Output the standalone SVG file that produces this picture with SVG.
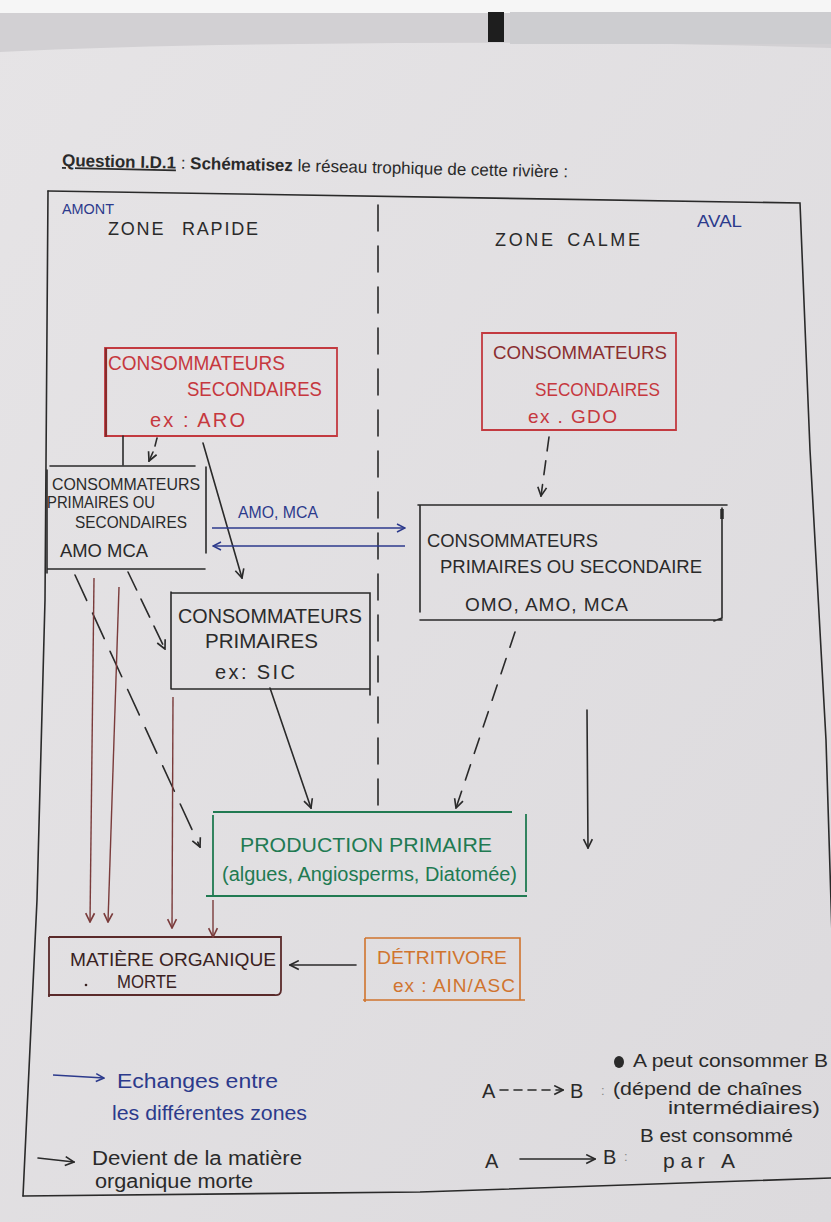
<svg xmlns="http://www.w3.org/2000/svg" width="831" height="1222" viewBox="0 0 831 1222">
<style>
text{font-family:"Liberation Sans",Arial,sans-serif;}
.ink{fill:#2a2a2a;}
.red{fill:#c6383e;}
.dred{fill:#8a2e30;}
.blue{fill:#2c3a8c;}
.green{fill:#217a52;}
.brown{fill:#3a2222;}
.orange{fill:#d0742e;}
.ln{fill:none;stroke:#2a2a2a;stroke-width:1.6;stroke-linecap:round;}
.lnr{fill:none;stroke:#c33a40;stroke-width:1.8;}
.lng{fill:none;stroke:#217a52;stroke-width:1.8;}
.lnb{fill:none;stroke:#5a2a2a;stroke-width:1.8;}
.lno{fill:none;stroke:#d0742e;stroke-width:1.6;}
.br{fill:none;stroke:#7a3b3b;stroke-width:1.4;}
.bl{fill:none;stroke:#2c3a8c;stroke-width:1.6;}
.dash{stroke-dasharray:26 15;}
</style>
<defs>
<linearGradient id="pg" x1="0" y1="0" x2="1" y2="1">
<stop offset="0" stop-color="#e6e4e6"/>
<stop offset="1" stop-color="#dcdadd"/>
</linearGradient>
<marker id="ak" viewBox="0 0 10 10" refX="9" refY="5" markerWidth="11" markerHeight="11" markerUnits="userSpaceOnUse" orient="auto"><path d="M1,1 L9,5 L1,9" fill="none" stroke="#2a2a2a" stroke-width="1.5"/></marker>
<marker id="ab" viewBox="0 0 10 10" refX="9" refY="5" markerWidth="11" markerHeight="11" markerUnits="userSpaceOnUse" orient="auto"><path d="M1,1 L9,5 L1,9" fill="none" stroke="#7a3b3b" stroke-width="1.5"/></marker>
<marker id="abl" viewBox="0 0 10 10" refX="9" refY="5" markerWidth="10" markerHeight="10" markerUnits="userSpaceOnUse" orient="auto"><path d="M1,1 L9,5 L1,9" fill="none" stroke="#2c3a8c" stroke-width="1.5"/></marker>
</defs>

<g id="background">
<rect x="0" y="0" width="831" height="1222" fill="url(#pg)"/>
<rect x="0" y="0" width="831" height="13" fill="#f6f6f6"/>
<path d="M0,13 H831 V48 Q600,40 300,44 Q120,46 0,52 Z" fill="#d2d0d3"/>
<rect x="488" y="12" width="16" height="30" fill="#1e1e1e"/>
<rect x="510" y="12" width="321" height="32" fill="#cdcdd0"/>
</g>

<g id="title">
<text x="62" y="166" font-size="17" textLength="506" lengthAdjust="spacingAndGlyphs" transform="rotate(1.3 62 166)" class="ink"><tspan font-weight="bold" text-decoration="underline">Question I.D.1</tspan> : <tspan font-weight="bold">Schématisez</tspan> le réseau trophique de cette rivière :</text>
</g>

<g id="frame">
<path class="ln" d="M48,191 L800,203 L810,450 L826,740 L834,1000"/>
<path class="ln" d="M48,191 L45,600 L37,900 L23,1196"/>
<path class="ln" d="M23,1196 L420,1192 L831,1178"/>
<path class="ln dash" d="M378,205 L378,812" stroke-width="1.8"/>
</g>

<g id="zone-labels">
<text x="62" y="214" font-size="14" textLength="52" lengthAdjust="spacingAndGlyphs" class="blue">AMONT</text>
<text x="108" y="235" font-size="18" textLength="150" lengthAdjust="spacing" style="word-spacing:10px" class="ink">ZONE RAPIDE</text>
<text x="495" y="246" font-size="18" textLength="145" lengthAdjust="spacing" style="word-spacing:4px" class="ink">ZONE CALME</text>
<text x="697" y="227" font-size="16" textLength="45" lengthAdjust="spacingAndGlyphs" class="blue">AVAL</text>
</g>

<g id="node-cs-amont">
<path class="lnr" d="M105,348 H337 V436 H105 Z"/>
<path d="M106,348 V437" stroke="#8a2a2a" stroke-width="2.2" fill="none"/>
<text x="108" y="370" font-size="20" textLength="177" lengthAdjust="spacingAndGlyphs" class="red">CONSOMMATEURS</text>
<text x="187" y="396" font-size="20" textLength="135" lengthAdjust="spacingAndGlyphs" class="red">SECONDAIRES</text>
<text x="150" y="427" font-size="20" textLength="95" lengthAdjust="spacing" class="red">ex : ARO</text>
</g>

<g id="node-cs-aval">
<path class="lnr" d="M482,333 H676 V430 H482 Z"/>
<text x="493" y="359" font-size="19" textLength="174" lengthAdjust="spacingAndGlyphs" class="dred">CONSOMMATEURS</text>
<text x="535" y="396" font-size="19" textLength="125" lengthAdjust="spacingAndGlyphs" class="red">SECONDAIRES</text>
<text x="528" y="423" font-size="19" textLength="89" lengthAdjust="spacing" class="red">ex . GDO</text>
</g>

<g id="node-cps-amont">
<path class="ln" d="M50,466 H195 M206,467 V553 M47,569 H205 M47,470 V573"/>
<text x="52" y="490" font-size="17" textLength="148" lengthAdjust="spacingAndGlyphs" class="ink">CONSOMMATEURS</text>
<text x="47" y="508" font-size="17" textLength="108" lengthAdjust="spacingAndGlyphs" class="ink">PRIMAIRES OU</text>
<text x="75" y="528" font-size="17" textLength="112" lengthAdjust="spacingAndGlyphs" class="ink">SECONDAIRES</text>
<text x="60" y="557" font-size="18" textLength="88" lengthAdjust="spacingAndGlyphs" class="ink">AMO MCA</text>
</g>

<g id="node-cp-amont">
<path class="ln" d="M172,593 H370 V695 M172,689 H370 M171,592 V689"/>
<text x="178" y="623" font-size="20" textLength="184" lengthAdjust="spacingAndGlyphs" class="ink">CONSOMMATEURS</text>
<text x="205" y="648" font-size="20" textLength="113" lengthAdjust="spacingAndGlyphs" class="ink">PRIMAIRES</text>
<text x="215" y="679" font-size="20" textLength="80" lengthAdjust="spacing" class="ink">ex: SIC</text>
</g>

<g id="node-cps-aval">
<path class="ln" d="M418,505 H727 M722,508 V618 L714,621 M420,620 H722 M420,505 V612"/>
<path d="M722,509 V519" stroke="#2a2a2a" stroke-width="3.5"/>
<text x="427" y="547" font-size="19" textLength="171" lengthAdjust="spacingAndGlyphs" class="ink">CONSOMMATEURS</text>
<text x="440" y="573" font-size="18" textLength="262" lengthAdjust="spacingAndGlyphs" class="ink">PRIMAIRES OU SECONDAIRE</text>
<text x="465" y="611" font-size="19" textLength="163" lengthAdjust="spacing" class="ink">OMO, AMO, MCA</text>
</g>

<g id="node-production">
<path class="lng" d="M213,812 H512 M526,814 V892 M206,896 H527 M213,815 V897"/>
<text x="240" y="852" font-size="20" textLength="252" lengthAdjust="spacingAndGlyphs" class="green">PRODUCTION PRIMAIRE</text>
<text x="222" y="881" font-size="20" textLength="295" lengthAdjust="spacingAndGlyphs" class="green">(algues, Angiosperms, Diatomée)</text>
</g>

<g id="node-mom">
<path class="lnb" d="M49,937 H281 V990 Q281,996 274,995 H48 M49,937 V997"/>
<circle cx="86" cy="985" r="1.3" fill="#3a2222"/>
<text x="70" y="966" font-size="19" textLength="206" lengthAdjust="spacingAndGlyphs" class="brown">MATIÈRE ORGANIQUE</text>
<text x="117" y="988" font-size="19" textLength="60" lengthAdjust="spacingAndGlyphs" class="brown">MORTE</text>
</g>

<g id="node-detritivore">
<path class="lno" d="M365,938 H520 V1000 M363,1000 H525 M365,938 V1002"/>
<text x="377" y="964" font-size="19" textLength="130" lengthAdjust="spacingAndGlyphs" class="orange">DÉTRITIVORE</text>
<text x="393" y="992" font-size="19" textLength="122" lengthAdjust="spacing" class="orange">ex : AIN/ASC</text>
</g>

<g id="connectors">
<path class="ln" d="M123,436 V465"/>
<path class="ln" d="M157,438 L155,446" />
<path class="ln" d="M153,452 L149,461" marker-end="url(#ak)"/>
<path class="ln" d="M203,443 L242,578" marker-end="url(#ak)"/>
<path class="ln" d="M549,437 L541,496" style="stroke-dasharray:14 10" marker-end="url(#ak)"/>
<path class="bl" d="M212,528 H405" marker-end="url(#abl)"/>
<path class="bl" d="M405,546 H213" marker-end="url(#abl)"/>
<path class="ln" d="M128,572 L165,649" style="stroke-dasharray:20 10" marker-end="url(#ak)"/>
<path class="ln" d="M75,575 L200,847" style="stroke-dasharray:28 14" marker-end="url(#ak)"/>
<path class="br" d="M94,578 L90,922" marker-end="url(#ab)"/>
<path class="br" d="M119,587 L108,922" marker-end="url(#ab)"/>
<path class="br" d="M173,697 L172,928" marker-end="url(#ab)"/>
<path class="br" d="M213,900 V937" marker-end="url(#ab)"/>
<path class="ln" d="M270,688 L311,808" marker-end="url(#ak)"/>
<path class="ln" d="M515,632 L456,808" style="stroke-dasharray:16 12" marker-end="url(#ak)"/>
<path class="ln" d="M587,710 L588,848" marker-end="url(#ak)"/>
<path class="ln" d="M356,965 H290" marker-end="url(#ak)"/>
<text x="238" y="518" font-size="16" textLength="80" lengthAdjust="spacingAndGlyphs" class="blue">AMO, MCA</text>
</g>

<g id="legend">
<path class="bl" d="M53,1075 L104,1078" marker-end="url(#abl)"/>
<text x="117" y="1088" font-size="21" textLength="161" lengthAdjust="spacingAndGlyphs" class="blue">Echanges entre</text>
<text x="112" y="1120" font-size="21" textLength="195" lengthAdjust="spacingAndGlyphs" class="blue">les différentes zones</text>
<path class="ln" d="M38,1158 L74,1162" marker-end="url(#ak)"/>
<text x="92" y="1165" font-size="20" textLength="210" lengthAdjust="spacingAndGlyphs" class="ink">Devient de la matière</text>
<text x="95" y="1188" font-size="20" textLength="158" lengthAdjust="spacingAndGlyphs" class="ink">organique morte</text>

<ellipse cx="619" cy="1062" rx="5" ry="6" fill="#2a2a2a"/>
<text x="633" y="1067" font-size="19" textLength="195" lengthAdjust="spacingAndGlyphs" class="ink">A peut consommer B</text>
<text x="482" y="1098" font-size="20" class="ink">A</text>
<path class="ln" d="M500,1090 H563" style="stroke-dasharray:8 6" marker-end="url(#ak)"/>
<text x="570" y="1098" font-size="20" class="ink">B</text>
<text x="601" y="1095" font-size="13" fill="#888">:</text>
<text x="613" y="1095" font-size="18" textLength="189" lengthAdjust="spacingAndGlyphs" class="ink">(dépend de chaînes</text>
<text x="668" y="1114" font-size="18" textLength="152" lengthAdjust="spacingAndGlyphs" class="ink">intermédiaires)</text>
<text x="640" y="1142" font-size="18" textLength="153" lengthAdjust="spacingAndGlyphs" class="ink">B est consommé</text>
<text x="485" y="1168" font-size="20" class="ink">A</text>
<path class="ln" d="M520,1159 H595" marker-end="url(#ak)"/>
<text x="603" y="1164" font-size="20" class="ink">B</text>
<text x="624" y="1161" font-size="13" fill="#888">:</text>
<text x="663" y="1168" font-size="21" textLength="72" lengthAdjust="spacing" class="ink">par A</text>
</g>
</svg>
